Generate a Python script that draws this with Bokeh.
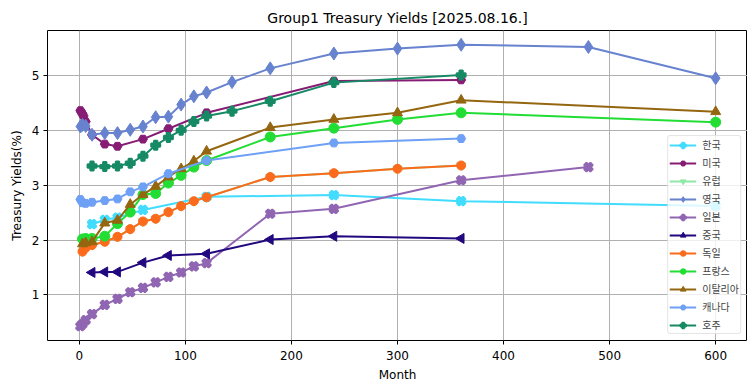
import numpy as np
from bokeh.plotting import figure
from bokeh.models import FixedTicker, Range1d
from bokeh.embed import file_html
from bokeh.resources import INLINE

# ---------------- data (months, yield %) ----------------
kr_m = [12, 24, 36, 60, 120, 240, 360, 600]
kr_y = [2.29, 2.37, 2.41, 2.55, 2.79, 2.82, 2.71, 2.62]

us_m = [1, 2, 3, 4, 6, 12, 24, 36, 60, 84, 120, 240, 360]
us_y = [4.36, 4.33, 4.30, 4.26, 4.16, 3.92, 3.75, 3.71, 3.84, 4.03, 4.32, 4.90, 4.92]

eu_m = [3, 6, 12, 24, 36, 48, 60, 72, 84, 96, 108, 120, 180, 240, 300, 360]
eu_y = [1.79, 1.86, 1.91, 1.97, 2.06, 2.20, 2.34, 2.39, 2.51, 2.62, 2.71, 2.78, 3.15, 3.22, 3.30, 3.36]

uk_m = [1, 3, 6, 12, 24, 36, 48, 60, 72, 84, 96, 108, 120, 144, 180, 240, 300, 360, 480, 600]
uk_y = [4.07, 4.10, 4.08, 3.92, 3.95, 3.95, 4.01, 4.07, 4.24, 4.25, 4.47, 4.62, 4.69, 4.88, 5.13, 5.40, 5.49, 5.56, 5.52, 4.95]

jp_m = [1, 3, 6, 12, 24, 36, 48, 60, 72, 84, 96, 108, 120, 180, 240, 360, 480]
jp_y = [0.43, 0.47, 0.54, 0.65, 0.82, 0.93, 1.05, 1.13, 1.23, 1.33, 1.41, 1.52, 1.58, 2.48, 2.57, 3.09, 3.33]

cn_m = [12, 24, 36, 60, 84, 120, 180, 240, 360]
cn_y = [1.41, 1.42, 1.42, 1.59, 1.72, 1.75, 2.01, 2.07, 2.03]

de_m = [3, 6, 12, 24, 36, 48, 60, 72, 84, 96, 108, 120, 180, 240, 300, 360]
de_y = [1.79, 1.86, 1.91, 1.97, 2.06, 2.20, 2.34, 2.39, 2.51, 2.62, 2.71, 2.78, 3.15, 3.22, 3.30, 3.36]

fr_m = [3, 6, 12, 24, 36, 48, 60, 72, 84, 96, 108, 120, 180, 240, 300, 360, 600]
fr_y = [2.02, 2.03, 2.03, 2.07, 2.30, 2.51, 2.83, 2.85, 3.04, 3.18, 3.33, 3.45, 3.88, 4.04, 4.20, 4.32, 4.15]

it_m = [3, 6, 12, 24, 36, 48, 60, 72, 84, 96, 108, 120, 180, 240, 300, 360, 600]
it_y = [1.93, 1.95, 1.97, 2.31, 2.36, 2.65, 2.83, 2.98, 3.15, 3.30, 3.44, 3.62, 4.05, 4.20, 4.32, 4.55, 4.34]

ca_m = [1, 3, 6, 12, 24, 36, 48, 60, 84, 120, 240, 360]
ca_y = [2.74, 2.68, 2.67, 2.69, 2.72, 2.75, 2.88, 2.97, 3.21, 3.45, 3.77, 3.85]

au_m = [12, 24, 36, 48, 60, 72, 84, 96, 108, 120, 144, 180, 240, 360]
au_y = [3.35, 3.34, 3.35, 3.40, 3.53, 3.73, 3.87, 4.00, 4.16, 4.26, 4.35, 4.53, 4.87, 5.01]

names = ["한국", "미국", "유럽", "영국", "일본", "중국", "독일", "프랑스", "이탈리아", "캐나다", "호주"]
x_ticks = [0, 100, 200, 300, 400, 500, 600]
y_ticks = [1, 2, 3, 4, 5]

# (months, yields, colour, marker, angle, size, marker outline width)
series = [
    (kr_m, kr_y, "#42dcff", "plus", np.pi / 4, 9, 2),
    (us_m, us_y, "#861c74", "hex", 0, 9, 1),
    (eu_m, eu_y, "#90e8a8", "inverted_triangle", 0, 9, 1),
    (uk_m, uk_y, "#6782cf", "diamond", 0, 13, 1),
    (jp_m, jp_y, "#9066b3", "plus", np.pi / 4, 9, 2),
    (cn_m, cn_y, "#22087f", "triangle", np.pi / 2, 10, 1),
    (de_m, de_y, "#fb6b1b", "circle", 0, 9, 1),
    (fr_m, fr_y, "#22dd33", "circle", 0, 10, 1),
    (it_m, it_y, "#946610", "triangle", 0, 10, 1),
    (ca_m, ca_y, "#6ea0f5", "hex", 0, 9, 1),
    (au_m, au_y, "#168a64", "plus", 0, 9, 2),
]

FONT = "DejaVu Sans"

p = figure(
    width=747, height=384,
    min_border_left=47, min_border_right=0, min_border_top=30, min_border_bottom=44,
    output_backend="svg", toolbar_location=None,
    x_range=Range1d(-30, 630), y_range=Range1d(0.17, 5.82),
    title="Group1 Treasury Yields [2025.08.16.]",
)
p.title.align = "center"
p.title.text_font = FONT
p.title.text_font_size = "14px"
p.title.text_font_style = "normal"
p.title.text_color = "#000000"

for (mx, yy, col, mk, ang, sz, lw), nm in zip(series, names):
    p.line(mx, yy, line_color=col, line_width=2, legend_label=nm)
    p.scatter(mx, yy, marker=mk, angle=ang, size=sz, fill_color=col, line_color=col,
              line_width=lw, legend_label=nm)

p.xaxis.ticker = FixedTicker(ticks=x_ticks)
p.yaxis.ticker = FixedTicker(ticks=y_ticks)
p.xaxis.axis_label = "Month"
p.yaxis.axis_label = "Treasury Yields(%)"
for ax in (p.xaxis, p.yaxis):
    ax.axis_label_text_font = FONT
    ax.axis_label_text_font_size = "12px"
    ax.axis_label_text_font_style = "normal"
    ax.axis_label_text_color = "#000000"
    ax.major_label_text_font = FONT
    ax.major_label_text_font_size = "12px"
    ax.major_label_text_color = "#000000"
    ax.minor_tick_line_color = None
    ax.major_tick_out = 4
    ax.major_tick_in = 0
    ax.axis_line_color = None
    ax.major_tick_line_color = "#000000"
p.xaxis.axis_label_standoff = 5
p.yaxis.axis_label_standoff = 5
p.xaxis.major_label_standoff = 6
p.yaxis.major_label_standoff = 4

p.grid.grid_line_color = "#b0b0b0"
p.grid.grid_line_width = 1
p.outline_line_color = "#000000"
p.outline_line_width = 1
p.background_fill_color = "white"
p.border_fill_color = "white"

lg = p.legend[0]
lg.location = "bottom_right"
lg.margin = 6
lg.padding = 1
lg.spacing = 3
lg.label_text_font = "Noto Sans CJK KR"
lg.label_text_font_size = "10px"
lg.label_height = 14
lg.glyph_height = 14
lg.glyph_width = 27
lg.label_standoff = 6
lg.border_line_color = "#cccccc"
lg.border_line_width = 1
lg.border_radius = 3
lg.background_fill_alpha = 0.8

open("out.html", "w").write(file_html(p, INLINE))
